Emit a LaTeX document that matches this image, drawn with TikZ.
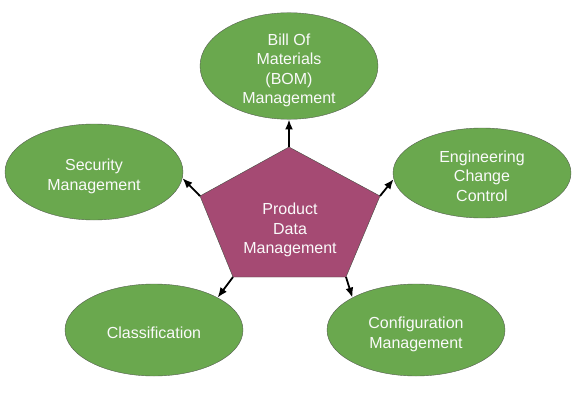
\documentclass[tikz,border=0pt]{standalone}
\usepackage{fontspec}
\setmainfont{Liberation Sans}
\definecolor{pdmpurple}{RGB}{165, 74, 115}
\definecolor{pdmgreen}{RGB}{106, 168, 78}
\definecolor{pdmedge}{RGB}{85, 95, 80}
\usetikzlibrary{arrows.meta, shapes.geometric}
% lines of a module, set a little below the middle
\newcommand{\modlines}[1]{\begin{tabular}{@{}c@{}}\rule{0pt}{23pt}#1\end{tabular}}
\tikzset{
	module/.style={ellipse, draw=pdmedge, fill=pdmgreen, thin, inner sep=-6pt, minimum width=178pt, minimum height=92pt, text=white!96!gray, font=\fontsize{16}{19.5}\selectfont},
	link/.style={-{Latex[length=10pt,width=8pt]}, line width=1.8pt, black},
}
\begin{document}
\begin{tikzpicture}[x=1pt, y=-1pt]
	\useasboundingbox (0,0) rectangle (580,409);
	% pentagon corners
	\coordinate (pt) at (289,147);
	\coordinate (pl) at (200,196);
	\coordinate (pr) at (380,196);
	\coordinate (pbr) at (346,277);
	\coordinate (pbl) at (233,277);
	\draw[fill=pdmpurple, draw=pdmedge!80!black, thin] (pt) -- (pr) -- (pbr) -- (pbl) -- (pl) -- cycle;
	\node[align=center, text=white!96!gray, font=\fontsize{16}{19.5}\selectfont] (pdm) at (290,230) {Product\\Data\\Management};
	% modules
	\node[module, minimum height=95pt] (bom) at (289,66) {\modlines{Bill Of\\Materials\\(BOM)\\Management}};
	\node[module, minimum height=96pt] (sec) at (94,172) {\modlines{Security\\Management}};
	\node[module, minimum height=90pt] (eng) at (482,173) {\modlines{Engineering\\Change\\Control}};
	\node[module] (cls) at (154,330) {\modlines{Classification}};
	\node[module] (cfg) at (416,330) {\modlines{Configuration\\Management}};
	% links
	\draw[link] (pt) -- (bom.south);
	\draw[link] (pl) -- (sec.-4);
	\draw[link] (pr) -- (eng.184);
	\draw[link] (pbl) -- (cls.27);
	\draw[link] (pbr) -- (cfg.153);
\end{tikzpicture}
\end{document}
